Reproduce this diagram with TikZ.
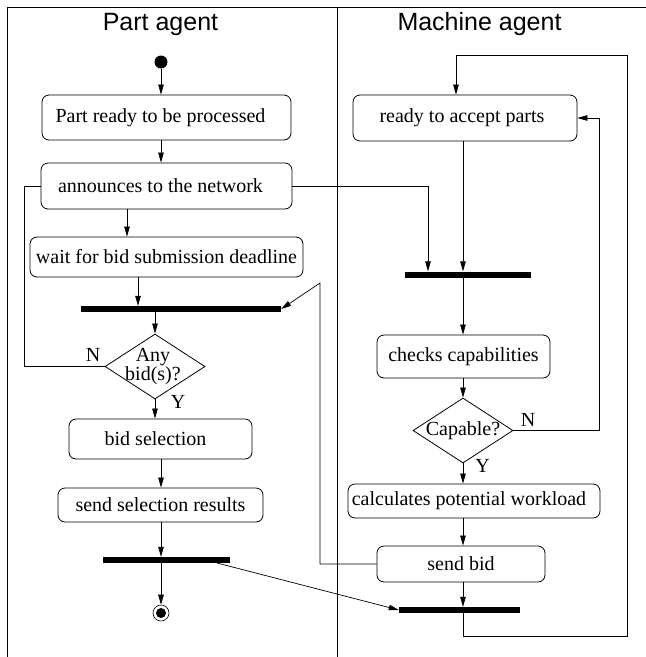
\documentclass[tikz,border=0pt]{standalone}
\usepackage{fontspec}
\setmainfont{Liberation Serif}
\newfontfamily\titlefont{Liberation Sans}
\usetikzlibrary{arrows.meta,shapes.geometric}
\begin{document}
\begin{tikzpicture}[x=1pt,y=-1pt,
  act/.style={draw,rounded corners=7pt,inner sep=0pt,line width=0.8pt,font=\fontsize{20}{22}\selectfont},
  bar/.style={fill=black,inner sep=0pt,minimum height=6pt},
  dec/.style={draw,diamond,inner sep=0pt,line width=0.8pt,minimum width=100pt,minimum height=65pt},
  arr/.style={-{Triangle[length=10pt,width=5.5pt]},line width=0.7pt},
  ln/.style={line width=0.7pt},
  lbl/.style={font=\fontsize{20}{18}\selectfont,inner sep=0pt,align=center},
  ttl/.style={font=\titlefont\fontsize{25}{28}\selectfont,inner sep=0pt,anchor=base}]
\useasboundingbox (0,0) rectangle (646,657);
% frame
\coordinate (ftl) at (7,7);
\coordinate (ftr) at (646,7);
\coordinate (fbl) at (7,657);
\coordinate (dtop) at (337,7);
\coordinate (dbot) at (337,657);
\draw[line width=0.8pt] (fbl) -- (ftl) -- (ftr);
\draw[line width=0.8pt] (dtop) -- (dbot);
\node[ttl] (t1) at (160.5,30) {Part agent};
\node[ttl] (t2) at (479.5,30) {Machine agent};
% left column
\node[circle,fill,inner sep=0pt,minimum size=13pt] (start) at (161,62) {};
\node[act,minimum width=249pt,minimum height=45pt] (pready) at (166.5,117.5) {Part ready to be processed\kern12pt};
\node[act,minimum width=251pt,minimum height=46pt] (announce) at (166.5,186) {announces to the network\kern12pt};
\node[act,minimum width=273pt,minimum height=40pt] (wait) at (166.5,257) {wait for bid submission deadline};
\node[bar,minimum width=200pt] (bar1) at (181,309) {};
\node[dec] (any) at (155,366.5) {};
\node[lbl] (anytxt) at (153,366.5) {Any\\bid(s)?};
\node[act,minimum width=183pt,minimum height=40pt] (bidsel) at (160.5,439) {bid selection\kern10pt};
\node[act,minimum width=205pt,minimum height=34pt] (sendsel) at (160.5,505) {send selection results};
\node[bar,minimum width=127pt] (bar2) at (166.5,560) {};
\node[circle,draw,inner sep=0pt,minimum size=16pt,line width=0.6pt] (end) at (161,613) {};
\node[circle,fill,inner sep=0pt,minimum size=10pt] (endin) at (end) {};
% right column
\node[act,minimum width=224pt,minimum height=46pt] (rready) at (465,118) {ready to accept parts\kern6pt};
\node[bar,minimum width=126pt] (bar3) at (468,274.5) {};
\node[act,minimum width=173pt,minimum height=43pt] (checks) at (463.5,356.5) {checks capabilities};
\node[dec] (cap) at (463,430.5) {};
\node[lbl] (captxt) at (cap) {Capable?};
\node[act,minimum width=252pt,minimum height=34pt] (calc) at (474,501) {calculates potential workload\kern10pt};
\node[act,minimum width=168pt,minimum height=36pt] (sendbid) at (461,564) {send bid};
\node[bar,minimum width=121pt] (bar4) at (459.5,610) {};
% labels
\node[lbl] (nl) at (93,355) {N};
\node[lbl] (yl) at (178,402) {Y};
\node[lbl] (nr) at (528,420) {N};
\node[lbl] (yr) at (482.5,466) {Y};
% helper coordinates
\coordinate (x127) at (127,0);
\coordinate (x138) at (138,0);
\coordinate (x428) at (428,0);
\coordinate (rx) at (463,0);
\coordinate (nloop) at (24,186);
\coordinate (sbc) at (320,283);
\coordinate (b2s) at (217,563);
\coordinate (ol1) at (627,636);
\coordinate (ol2) at (456,55);
\coordinate (il) at (599,118);
% left connectors
\draw[arr] (start) -- (pready.north -| start);
\draw[arr] (pready.south -| start) -- (announce.north -| start);
\draw[arr] (announce.south -| x127) -- (wait.north -| x127);
\draw[arr] (wait.south -| x138) -- (bar1.north -| x138);
\draw[arr] (bar1.south -| any) -- (any.north);
\draw[arr] (any.south) -- (bidsel.north -| any);
\draw[arr] (bidsel.south -| start) -- (sendsel.north -| start);
\draw[arr] (sendsel.south -| start) -- (bar2.north -| start);
\draw[arr] (bar2.south -| start) -- (end.north);
\draw[ln] (any.west) -| (nloop) -- (announce.west);
% cross connectors
\draw[arr] (announce.east) -| (bar3.north -| x428);
\draw[arr] (sendbid.west) -| (sbc) -- (bar1.east);
\draw[arr] (b2s) -- (bar4.west);
% right connectors
\draw[arr] (rready.south -| rx) -- (bar3.north -| rx);
\draw[arr] (bar3.south -| rx) -- (checks.north -| rx);
\draw[arr] (checks.south -| rx) -- (cap.north);
\draw[arr] (cap.south) -- (calc.north -| cap);
\draw[arr] (calc.south -| rx) -- (sendbid.north -| rx);
\draw[arr] (sendbid.south -| rx) -- (bar4.north -| rx);
\draw[arr] (bar4.south -| rx) |- (ol1) |- (ol2) -- (rready.north -| ol2);
\draw[arr] (cap.east) -| (il) -- (rready.east);
\end{tikzpicture}
\end{document}
